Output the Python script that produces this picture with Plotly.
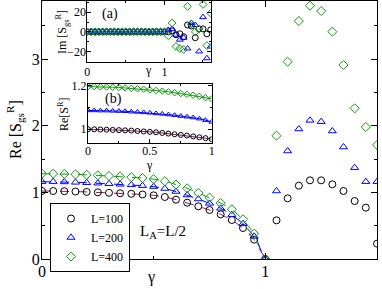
import plotly.graph_objects as go

# ---------------- data ----------------
gamma_main = [0.0, 0.05, 0.1, 0.15, 0.2, 0.25, 0.3, 0.35, 0.4, 0.45, 0.5,
              0.55, 0.6, 0.65, 0.7, 0.75, 0.8, 0.85, 0.9, 0.95, 1.0,
              1.05, 1.1, 1.15, 1.2, 1.25, 1.3, 1.35, 1.4, 1.45, 1.5]
re_L100 = [1.02, 1.02, 1.017, 1.012, 1.006, 1.0, 0.993, 0.986, 0.978, 0.968, 0.955,
           0.93, 0.89, 0.845, 0.79, 0.735, 0.67, 0.585, 0.465, 0.29, 0.0,
           0.58, 0.91, 1.10, 1.18, 1.18, 1.12, 1.02, 0.87, 0.77, 0.23]
re_L200 = [1.16, 1.16, 1.156, 1.15, 1.144, 1.137, 1.129, 1.121, 1.112, 1.10, 1.086,
           1.057, 1.012, 0.96, 0.90, 0.835, 0.76, 0.665, 0.53, 0.34, 0.0,
           1.02, 1.62, 1.95, 2.08, 2.06, 1.92, 1.68, 1.37, 1.16, 1.16]
re_L400 = [1.28, 1.28, 1.276, 1.27, 1.263, 1.255, 1.246, 1.237, 1.227, 1.215, 1.198,
           1.167, 1.117, 1.06, 0.99, 0.92, 0.84, 0.745, 0.595, 0.38, 0.0,
           1.85, 2.96, 3.57, 3.80, 3.72, 3.41, 2.91, 2.26, 1.98, 1.71]
n_fit = 21  # points with gamma <= 1 joined by dashed curves

gamma_a = [0.0, 0.05, 0.1, 0.15, 0.2, 0.25, 0.3, 0.35, 0.4, 0.45, 0.5,
           0.55, 0.6, 0.65, 0.7, 0.75, 0.8, 0.85, 0.9, 0.95, 1.0,
           1.05, 1.1, 1.15, 1.2, 1.25, 1.3, 1.35, 1.4, 1.45, 1.5, 1.55, 1.6]
im_L100 = [0] * 21 + [0, 1, -3, -2, -5, 7, 6, -6, 3, 3, -2, 2]
im_L200 = [0] * 21 + [2, 3, -3, -8, -6, -17, 9, 7, -20, 15, -27, -15]
im_L400 = [0] * 21 + [-4, 9, -15, -17, -18, 26, 8, 0, 3, 28, -14, 19]

gamma_b = [0.0, 0.05, 0.1, 0.15, 0.2, 0.25, 0.3, 0.35, 0.4, 0.45, 0.5,
           0.55, 0.6, 0.65, 0.7, 0.75, 0.8, 0.85, 0.9, 0.95, 1.0]
reb_L100 = [1.0, 1.0, 0.999, 0.998, 0.997, 0.996, 0.995, 0.994, 0.992, 0.99, 0.988,
            0.986, 0.983, 0.98, 0.977, 0.974, 0.971, 0.967, 0.963, 0.959, 0.954]
reb_L200 = [1.087, 1.087, 1.086, 1.086, 1.085, 1.084, 1.083, 1.081, 1.08, 1.078, 1.076,
            1.073, 1.071, 1.068, 1.065, 1.061, 1.058, 1.054, 1.049, 1.042, 1.034]
reb_L400 = [1.197, 1.197, 1.196, 1.195, 1.194, 1.193, 1.191, 1.189, 1.187, 1.185, 1.182,
            1.179, 1.176, 1.173, 1.169, 1.165, 1.161, 1.157, 1.152, 1.146, 1.14]

labels = ["L=100", "L=200", "L=400"]

# ---------------- style ----------------
FONT = "Liberation Serif"
BLACK, BLUE, GREEN, MAROON = "#000000", "#0000ff", "#119911", "#8a1c5c"
symbols = ["circle-open", "triangle-up-open", "diamond-open"]
mcolors = [BLACK, BLUE, GREEN]
lcolors = [MAROON, BLUE, GREEN]

W, H = 382, 289
L, R, T, B = 42, 5, 1, 30
pw, ph = W - L - R, H - T - B


def px(x):
    return (x - L) / pw


def py(y):
    return (H - B - y) / ph


fig = go.Figure()

main_series = [re_L100, re_L200, re_L400]
for vals, lc in zip(main_series, lcolors):
    fig.add_trace(go.Scatter(x=gamma_main[:n_fit], y=vals[:n_fit], mode="lines",
                             line=dict(color=lc, width=1, dash="dash"),
                             showlegend=False, xaxis="x", yaxis="y"))
for vals, sym, mc, lab in zip(main_series, symbols, mcolors, labels):
    fig.add_trace(go.Scatter(x=gamma_main, y=vals, mode="markers", name=lab,
                             marker=dict(symbol=sym, size=7, color=mc,
                                         line=dict(color=mc, width=1)),
                             xaxis="x", yaxis="y"))

# inset (a)
for vals, sym, mc in zip([im_L100, im_L200, im_L400], symbols, mcolors):
    fig.add_trace(go.Scatter(x=gamma_a, y=vals, mode="markers", showlegend=False,
                             marker=dict(symbol=sym, size=6, color=mc,
                                         line=dict(color=mc, width=1)),
                             xaxis="x2", yaxis="y2"))
# inset (b)
for vals, sym, mc, lc in zip([reb_L100, reb_L200, reb_L400], symbols, mcolors, lcolors):
    fig.add_trace(go.Scatter(x=gamma_b, y=vals, mode="lines+markers", showlegend=False,
                             line=dict(color=lc, width=1),
                             marker=dict(symbol=sym, size=5, color=mc,
                                         line=dict(color=mc, width=1)),
                             xaxis="x3", yaxis="y3"))

ax_common = dict(showline=True, linecolor="black", linewidth=1, mirror="ticks",
                 ticks="inside", tickcolor="black", showgrid=False, zeroline=False,
                 color="black", automargin=False)

fig.update_layout(
    width=W, height=H,
    margin=dict(l=L, r=R, t=T, b=B, autoexpand=False),
    paper_bgcolor="white", plot_bgcolor="white",
    font=dict(family=FONT, size=15, color="black"),
    xaxis=dict(domain=[0, 1], range=[0, 1.5], tickvals=[0, 1], ticklen=6,
               tickfont=dict(size=16), ticklabelstandoff=-2,
               minor=dict(ticks="inside", ticklen=3, dtick=0.5, tick0=0, tickcolor="black"),
               **ax_common),
    yaxis=dict(domain=[0, 1], range=[0, 3.87], dtick=1, ticklen=6,
               tickfont=dict(size=16), ticklabelstandoff=-2,
               minor=dict(ticks="inside", ticklen=3, dtick=0.5, tick0=0, tickcolor="black"),
               **ax_common),
    xaxis2=dict(domain=[px(87.3), px(210.7)], range=[0, 1.6], tickvals=[0, 1], ticklen=4,
                anchor="y2", tickfont=dict(size=12), ticklabelstandoff=-1,
                minor=dict(ticks="inside", ticklen=2, dtick=0.5, tick0=0, tickcolor="black"),
                **ax_common),
    yaxis2=dict(domain=[py(61.7), 1.0], range=[-30.5, 31.5], tickvals=[-20, 0, 20], ticklen=4,
                anchor="x2", tickfont=dict(size=12), ticklabelstandoff=-2,
                minor=dict(ticks="inside", ticklen=2, dtick=10, tick0=0, tickcolor="black"),
                **ax_common),
    xaxis3=dict(domain=[px(88), px(211.7)], range=[0, 1], tickvals=[0, 0.5, 1], ticklen=4,
                ticktext=["0", "0.5", "1"], ticklabelstandoff=-3,
                anchor="y3", tickfont=dict(size=12),
                minor=dict(ticks="inside", ticklen=2, dtick=0.25, tick0=0, tickcolor="black"),
                **ax_common),
    yaxis3=dict(domain=[py(142.7), py(84)], range=[0.938, 1.209], tickvals=[1, 1.2],
                ticktext=["1", "1.2"], ticklen=4, ticklabelstandoff=-2,
                anchor="x3", tickfont=dict(size=12),
                minor=dict(ticks="inside", ticklen=2, dtick=0.1, tick0=1, tickcolor="black"),
                **ax_common),
    legend=dict(x=px(50), y=py(203), xanchor="left", yanchor="top",
                bgcolor="white", bordercolor="black", borderwidth=1,
                font=dict(family=FONT, size=12), itemwidth=30,
                tracegroupgap=0),
)

ann = [
    dict(text="Re [S<sub>gs</sub><sup>R</sup>]", x=px(15), y=py(130), textangle=-90, size=16),
    dict(text="γ", x=px(151), y=py(277), textangle=0, size=16),
    dict(text="L<sub>A</sub>=L/2", x=px(163), y=py(232), textangle=0, size=15),
    dict(text="(a)", x=px(110), y=py(14), textangle=0, size=14),
    dict(text="(b)", x=px(113), y=py(99), textangle=0, size=14),
    dict(text="γ", x=px(148), y=py(70), textangle=0, size=12),
    dict(text="γ", x=px(149), y=py(165), textangle=0, size=12),
    dict(text="Im [S<sub>gs</sub><sup>R</sup>]", x=px(63), y=py(32), textangle=-90, size=12),
    dict(text="Re[S<sup>R</sup>]", x=px(63), y=py(114), textangle=-90, size=12),
]
for a in ann:
    fig.add_annotation(text=a["text"], x=a["x"], y=a["y"], xref="paper", yref="paper",
                       showarrow=False, textangle=a["textangle"],
                       font=dict(family=FONT, size=a["size"], color="black"),
                       xanchor="center", yanchor="middle")

fig.write_html("out.html", config={"displayModeBar": False},
               post_script="document.body.style.margin='0';document.body.style.overflow='hidden';")
